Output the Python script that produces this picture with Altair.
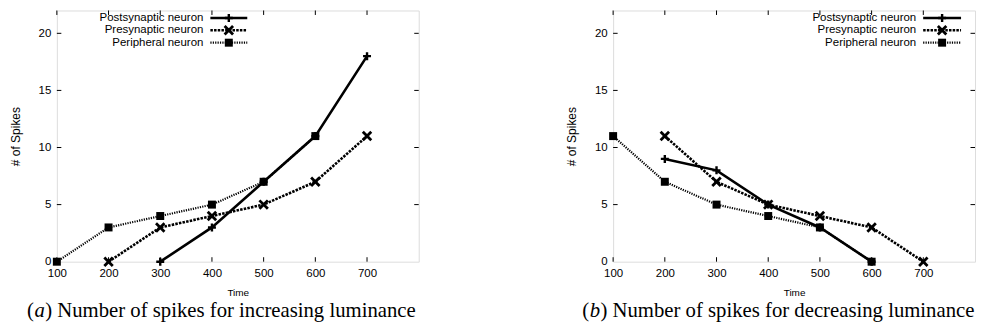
import altair as alt
import pandas as pd

# ---------------- data ----------------
series_names = ["Postsynaptic neuron", "Presynaptic neuron", "Peripheral neuron"]

# (a) increasing luminance
inc_post_t = [300, 400, 500, 600, 700]
inc_post_v = [0, 3, 7, 11, 18]
inc_pre_t = [200, 300, 400, 500, 600, 700]
inc_pre_v = [0, 3, 4, 5, 7, 11]
inc_per_t = [100, 200, 300, 400, 500, 600]
inc_per_v = [0, 3, 4, 5, 7, 11]

# (b) decreasing luminance
dec_post_t = [200, 300, 400, 500, 600]
dec_post_v = [9, 8, 5, 3, 0]
dec_pre_t = [200, 300, 400, 500, 600, 700]
dec_pre_v = [11, 7, 5, 4, 3, 0]
dec_per_t = [100, 200, 300, 400, 500, 600]
dec_per_v = [11, 7, 5, 4, 3, 0]

x_ticks = [100, 200, 300, 400, 500, 600, 700]
y_ticks = [0, 5, 10, 15, 20]
x_domain = [100, 800]
y_domain = [0, 22]

captions = {
    "a": ("a", " Number of spikes for increasing luminance"),
    "b": ("b", " Number of spikes for decreasing luminance"),
}

# ---------------- styles ----------------
W, H = 363, 252
FONT = "Liberation Sans"
CAP_FS = 20.8
LEG_FS = 11.5
STYLE = {
    "Postsynaptic neuron": dict(dash=None, width=2.6, shape="M-1,0L1,0M0,-1L0,1", size=64, filled=False, sw=2.4),
    "Presynaptic neuron": dict(dash=[2.5, 1.2], width=2.6, shape="M-1,-1L1,1M-1,1L1,-1", size=72, filled=False, sw=2.8),
    "Peripheral neuron": dict(dash=[1.2, 1.2], width=2.2, shape="square", size=64, filled=True, sw=1.8),
}


def frame(t, v, name):
    return pd.DataFrame({"time": t, "spikes": v, "series": name})


xs = alt.Scale(domain=x_domain, nice=False, zero=False)
ys = alt.Scale(domain=y_domain, nice=False, zero=False)


def panel(series_data, key, leg_text_x, leg_line_x0, leg_line_x1, cap_x):
    x_axis = alt.Axis(values=x_ticks, ticks=False, domain=False, grid=False, labelPadding=6,
                      labelFontSize=11.5, labelFlush=False, title="Time", titleFontSize=10,
                      titleFontWeight="normal", titlePadding=8)
    y_axis = alt.Axis(values=y_ticks, ticks=False, domain=False, grid=False, labelPadding=6,
                      labelFontSize=11.5, title="# of Spikes", titleFontSize=12,
                      titleFontWeight="normal", titlePadding=16)

    layers = []
    all_df = pd.concat([frame(t, v, n) for (t, v, n) in series_data], ignore_index=True)
    base = alt.Chart(all_df).mark_point(opacity=0).encode(
        x=alt.X("time:Q", scale=xs, axis=x_axis),
        y=alt.Y("spikes:Q", scale=ys, axis=y_axis),
    )
    layers.append(base)

    # inward ticks (gnuplot style, on all four sides)
    xt = pd.DataFrame({"t": x_ticks})
    yt = pd.DataFrame({"t": [v for v in y_ticks if v > 0]})
    layers.append(alt.Chart(xt).mark_rule(color="black", strokeWidth=1).encode(
        x=alt.X("t:Q", scale=xs), y=alt.value(H), y2=alt.value(H - 4.5)))
    layers.append(alt.Chart(xt).mark_rule(color="black", strokeWidth=1).encode(
        x=alt.X("t:Q", scale=xs), y=alt.value(0), y2=alt.value(4.5)))
    layers.append(alt.Chart(yt).mark_rule(color="black", strokeWidth=1).encode(
        y=alt.Y("t:Q", scale=ys), x=alt.value(0), x2=alt.value(4.5)))
    layers.append(alt.Chart(yt).mark_rule(color="black", strokeWidth=1).encode(
        y=alt.Y("t:Q", scale=ys), x=alt.value(W), x2=alt.value(W - 4.5)))

    # data lines + points
    for (t, v, n) in series_data:
        st = STYLE[n]
        df = frame(t, v, n)
        lk = dict(color="black", strokeWidth=st["width"])
        if st["dash"]:
            lk["strokeDash"] = st["dash"]
        layers.append(alt.Chart(df).mark_line(**lk).encode(
            x=alt.X("time:Q", scale=xs), y=alt.Y("spikes:Q", scale=ys)))
    for (t, v, n) in series_data:
        st = STYLE[n]
        df = frame(t, v, n)
        layers.append(alt.Chart(df).mark_point(
            shape=st["shape"], size=st["size"], filled=st["filled"], color="black",
            strokeWidth=st["sw"], opacity=1).encode(
            x=alt.X("time:Q", scale=xs), y=alt.Y("spikes:Q", scale=ys)))

    # legend (label left, sample right, as in gnuplot)
    one = alt.Data(values=[{"k": 1}])
    for i, n in enumerate(series_names):
        st = STYLE[n]
        yy = 7.5 + 12.4 * i
        layers.append(alt.Chart(one).mark_text(text=n, align="right", baseline="middle",
                                               font=FONT, fontSize=LEG_FS, color="black").encode(
            x=alt.value(leg_text_x), y=alt.value(yy)))
        rk = dict(color="black", strokeWidth=st["width"])
        if st["dash"]:
            rk["strokeDash"] = st["dash"]
        layers.append(alt.Chart(one).mark_rule(**rk).encode(
            x=alt.value(leg_line_x0), x2=alt.value(leg_line_x1), y=alt.value(yy)))
        layers.append(alt.Chart(one).mark_point(
            shape=st["shape"], size=st["size"], filled=st["filled"], color="black",
            strokeWidth=st["sw"], opacity=1).encode(
            x=alt.value((leg_line_x0 + leg_line_x1) / 2), y=alt.value(yy)))

    # caption
    letter, rest = captions[key]
    cy = 307
    ck = dict(font="Liberation Serif", fontSize=CAP_FS, color="black", align="left", baseline="alphabetic")
    layers.append(alt.Chart(one).mark_text(text="(", **ck).encode(x=alt.value(cap_x), y=alt.value(cy)))
    layers.append(alt.Chart(one).mark_text(text=letter, fontStyle="italic", **ck).encode(
        x=alt.value(cap_x + 0.36 * CAP_FS), y=alt.value(cy)))
    layers.append(alt.Chart(one).mark_text(text=")" + rest, **ck).encode(
        x=alt.value(cap_x + 0.36 * CAP_FS + 0.52 * CAP_FS), y=alt.value(cy)))

    return alt.layer(*layers).properties(width=W, height=H)


left = panel([(inc_post_t, inc_post_v, series_names[0]),
              (inc_pre_t, inc_pre_v, series_names[1]),
              (inc_per_t, inc_per_v, series_names[2])], "a", 147, 154, 191, -30)
right = panel([(dec_post_t, dec_post_v, series_names[0]),
               (dec_pre_t, dec_pre_v, series_names[1]),
               (dec_per_t, dec_per_v, series_names[2])], "b", 304, 311, 349, -31)

chart = alt.hconcat(left, right, spacing=195, bounds="flush").properties(
    padding={"left": 0, "top": 0, "right": 0, "bottom": 0}
).configure_view(stroke="black", strokeWidth=1.2).configure_axis(
    labelFont=FONT, titleFont=FONT, labelColor="black", titleColor="black"
).configure(background="white")

chart.save("out.html", embed_options={"renderer": "svg", "actions": False})
